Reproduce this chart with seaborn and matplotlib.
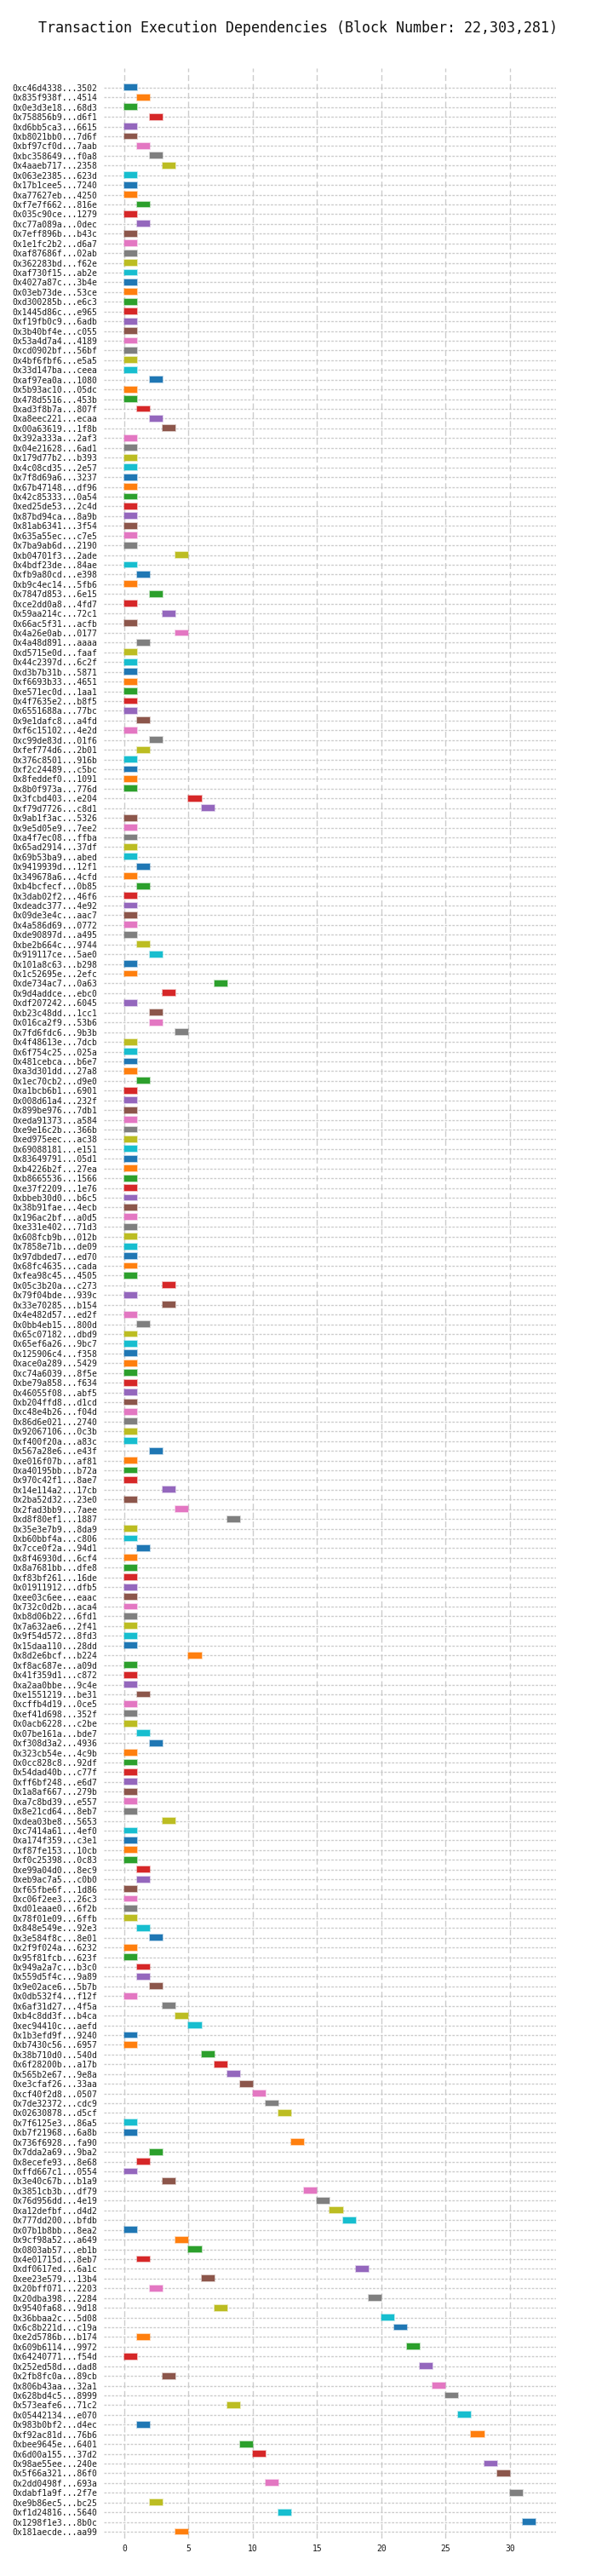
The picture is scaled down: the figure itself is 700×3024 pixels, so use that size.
"""
Transaction execution dependencies for one block, drawn as a Gantt-style chart.
Each transaction gets one row; its bar starts at the step it can run.
"""

import matplotlib

matplotlib.use("Agg")
import matplotlib.pyplot as plt
import numpy as np
import seaborn as sns

BLOCK_NUMBER = "22,303,281"

# ----------------------------
# Data
# ----------------------------
tx_labels = [
    "0xc46d4338...3502", "0x835f938f...4514", "0x0e3d3e18...68d3", "0x758856b9...d6f1",
    "0xd6bb5ca3...6615", "0xb8021bb0...7d6f", "0xbf97cf0d...7aab", "0xbc358649...f0a8",
    "0x4aaeb717...2358", "0x063e2385...623d", "0x17b1cee5...7240", "0xa77627eb...4250",
    "0xf7e7f662...816e", "0x035c90ce...1279", "0xc77a089a...0dec", "0x7eff896b...b43c",
    "0x1e1fc2b2...d6a7", "0xaf87686f...02ab", "0x362283bd...f62e", "0xaf730f15...ab2e",
    "0x4027a87c...3b4e", "0x03eb73de...53ce", "0xd300285b...e6c3", "0x1445d86c...e965",
    "0xf19fb0c9...6adb", "0x3b40bf4e...c055", "0x53a4d7a4...4189", "0xcd0902bf...56bf",
    "0x4bf6fbf6...e5a5", "0x33d147ba...ceea", "0xaf97ea0a...1080", "0x5b93ac10...05dc",
    "0x478d5516...453b", "0xad3f8b7a...807f", "0xa8eec221...ecaa", "0x00a63619...1f8b",
    "0x392a333a...2af3", "0x04e21628...6ad1", "0x179d77b2...b393", "0x4c08cd35...2e57",
    "0x7f8d69a6...3237", "0x67b47148...df96", "0x42c85333...0a54", "0xed25de53...2c4d",
    "0x87bd94ca...8a9b", "0x81ab6341...3f54", "0x635a55ec...c7e5", "0x7ba9ab6d...2190",
    "0xb04701f3...2ade", "0x4bdf23de...84ae", "0xfb9a80cd...e398", "0xb9c4ec14...5fb6",
    "0x7847d853...6e15", "0xce2dd0a8...4fd7", "0x59aa214c...72c1", "0x66ac5f31...acfb",
    "0x4a26e0ab...0177", "0x4a48d891...aaaa", "0xd5715e0d...faaf", "0x44c2397d...6c2f",
    "0xd3b7b31b...5871", "0xf6693b33...4651", "0xe571ec0d...1aa1", "0x4f7635e2...b8f5",
    "0x6551688a...77bc", "0x9e1dafc8...a4fd", "0xf6c15102...4e2d", "0xc99de83d...01f6",
    "0xfef774d6...2b01", "0x376c8501...916b", "0xf2c24489...c5bc", "0x8feddef0...1091",
    "0x8b0f973a...776d", "0x3fcbd403...e204", "0xf79d7726...c8d1", "0x9ab1f3ac...5326",
    "0x9e5d05e9...7ee2", "0xa4f7ec08...ffba", "0x65ad2914...37df", "0x69b53ba9...abed",
    "0x9419939d...12f1", "0x349678a6...4cfd", "0xb4bcfecf...0b85", "0x3dab02f2...46f6",
    "0xdeadc377...4e92", "0x09de3e4c...aac7", "0x4a586d69...0772", "0xde90897d...a495",
    "0xbe2b664c...9744", "0x919117ce...5ae0", "0x101a8c63...b298", "0x1c52695e...2efc",
    "0xde734ac7...0a63", "0x9d4addce...ebc0", "0xdf207242...6045", "0xb23c48dd...1cc1",
    "0x016ca2f9...53b6", "0x7fd6fdc6...9b3b", "0x4f48613e...7dcb", "0x6f754c25...025a",
    "0x481cebca...b6e7", "0xa3d301dd...27a8", "0x1ec70cb2...d9e0", "0xa1bcb6b1...6901",
    "0x008d61a4...232f", "0x899be976...7db1", "0xeda91373...a584", "0xe9e16c2b...366b",
    "0xed975eec...ac38", "0x69088181...e151", "0x83649791...05d1", "0xb4226b2f...27ea",
    "0xb8665536...1566", "0xe37f2209...1e76", "0xbbeb30d0...b6c5", "0x38b91fae...4ecb",
    "0x196ac2bf...a0d5", "0xe331e402...71d3", "0x608fcb9b...012b", "0x7858e71b...de09",
    "0x97dbded7...ed70", "0x68fc4635...cada", "0xfea98c45...4505", "0x05c3b20a...c273",
    "0x79f04bde...939c", "0x33e70285...b154", "0x4e482d57...ed2f", "0x0bb4eb15...800d",
    "0x65c07182...dbd9", "0x65ef6a26...9bc7", "0x125906c4...f358", "0xace0a289...5429",
    "0xc74a6039...8f5e", "0xbe79a858...f634", "0x46055f08...abf5", "0xb204ffd8...d1cd",
    "0xc48e4b26...f04d", "0x86d6e021...2740", "0x92067106...0c3b", "0xf400f20a...a83c",
    "0x567a28e6...e43f", "0xe016f07b...af81", "0xa40195bb...b72a", "0x970c42f1...8ae7",
    "0x14e114a2...17cb", "0x2ba52d32...23e0", "0x2fad3bb9...7aee", "0xd8f80ef1...1887",
    "0x35e3e7b9...8da9", "0xb60bbf4a...c806", "0x7cce0f2a...94d1", "0x8f46930d...6cf4",
    "0x8a7681bb...dfe8", "0xf83bf261...16de", "0x01911912...dfb5", "0xee03c6ee...eaac",
    "0x732c0d2b...aca4", "0xb8d06b22...6fd1", "0x7a632ae6...2f41", "0x9f54d572...8fd3",
    "0x15daa110...28dd", "0x8d2e6bcf...b224", "0xf8ac687e...a09d", "0x41f359d1...c872",
    "0xa2aa0bbe...9c4e", "0xe1551219...be31", "0xcffb4d19...0ce5", "0xef41d698...352f",
    "0x0acb6228...c2be", "0x07be161a...bde7", "0xf308d3a2...4936", "0x323cb54e...4c9b",
    "0x0cc828c8...92df", "0x54dad40b...c77f", "0xff6bf248...e6d7", "0x1a8af667...279b",
    "0xa7c8bd39...e557", "0x8e21cd64...8eb7", "0xdea03be8...5653", "0xc7414a61...4ef0",
    "0xa174f359...c3e1", "0xf87fe153...10cb", "0xf0c25398...0c83", "0xe99a04d0...8ec9",
    "0xeb9ac7a5...c0b0", "0xf65fbe6f...1d86", "0xc06f2ee3...26c3", "0xd01eaae0...6f2b",
    "0x78f01e09...6ffb", "0x848e549e...92e3", "0x3e584f8c...8e01", "0x2f9f024a...6232",
    "0x95f81fcb...623f", "0x949a2a7c...b3c0", "0x559d5f4c...9a89", "0x9e02ace6...5b7b",
    "0x0db532f4...f12f", "0x6af31d27...4f5a", "0xb4c8dd3f...b4ca", "0xec94410c...aefd",
    "0x1b3efd9f...9240", "0xb7430c56...6957", "0x38b710d0...540d", "0x6f28200b...a17b",
    "0x565b2e67...9e8a", "0xe3cfaf26...33aa", "0xcf40f2d8...0507", "0x7de32372...cdc9",
    "0x02630878...d5cf", "0x7f6125e3...86a5", "0xb7f21968...6a8b", "0x736f6928...fa90",
    "0x7dda2a69...9ba2", "0x8ecefe93...8e68", "0xffd667c1...0554", "0x3e40c67b...b1a9",
    "0x3851cb3b...df79", "0x76d956dd...4e19", "0xa12defbf...d4d2", "0x777dd200...bfdb",
    "0x07b1b8bb...8ea2", "0x9cf98a52...a649", "0x0803ab57...eb1b", "0x4e01715d...8eb7",
    "0xdf0617ed...6a1c", "0xee23e579...13b4", "0x20bff071...2203", "0x20dba398...2284",
    "0x9540fa68...9d18", "0x36bbaa2c...5d08", "0x6c8b221d...c19a", "0xe2d5786b...b174",
    "0x609b6114...9972", "0x64240771...f54d", "0x252ed58d...dad8", "0x2fb8fc0a...89cb",
    "0x806b43aa...32a1", "0x628bd4c5...8999", "0x573eafe6...71c2", "0x05442134...e070",
    "0x983b0bf2...d4ec", "0xf92ac81d...76b6", "0xbee9645e...6401", "0x6d00a155...37d2",
    "0x98ae55ee...240e", "0x5f66a321...86f0", "0x2dd0498f...693a", "0xdabf1a9f...2f7e",
    "0xe9b86ec5...bc25", "0xf1d24816...5640", "0x1298f1e3...8b0c", "0x181aecde...aa99",
]

# execution step at which each transaction starts
start_steps = [
    0, 1, 0, 2, 0, 0, 1, 2, 3, 0, 0, 0, 1, 0, 1, 0, 0, 0, 0, 0,
    0, 0, 0, 0, 0, 0, 0, 0, 0, 0, 2, 0, 0, 1, 2, 3,
    0, 0, 0, 0, 0, 0, 0, 0, 0, 0, 0, 0, 4, 0, 1, 0, 2, 0, 3, 0,
    4, 1, 0, 0, 0,
    0, 0, 0, 0, 1, 0, 2, 1, 0, 0, 0, 0, 5, 6, 0, 0, 0, 0, 0, 1,
    0, 1, 0, 0, 0,
    0, 0, 1, 2, 0, 0, 7, 3, 0, 2, 2, 4, 0, 0, 0, 0, 1, 0, 0, 0,
    0, 0, 0, 0, 0,
    0, 0, 0, 0, 0, 0, 0, 0, 0, 0, 0, 0, 3, 0, 3, 0, 1, 0, 0, 0,
    0, 0, 0, 0, 0,
    0, 0, 0, 0, 2, 0, 0, 0, 3, 0, 4, 8, 0, 0, 1, 0, 0, 0, 0, 0,
    0, 0, 0, 0, 0,
    5, 0, 0, 0, 1, 0, 0, 0, 1, 2, 0, 0, 0, 0, 0, 0, 0, 3, 0, 0,
    0, 0, 1, 1, 0,
    0, 0, 0, 1, 2, 0, 0, 1, 1, 2, 0, 3, 4, 5, 0, 0, 6, 7, 8, 9,
    10, 11, 12, 0, 0,
    13, 2, 1, 0, 3, 14, 15, 16, 17, 0, 4, 5, 1, 18, 6, 2, 19, 7, 20, 21,
    1, 22, 0, 23, 3,
    24, 25, 8, 26, 1, 27, 9, 10, 28, 29, 11, 30, 2, 12, 31, 4,
]

STEP_DURATION = 1  # every transaction occupies one step


def plot():

    # ----------------------------
    # Style
    # ----------------------------
    sns.set_style("whitegrid")
    plt.rcParams["font.family"] = ["DejaVu Sans Mono"]

    n = len(tx_labels)
    palette = sns.color_palette("tab10", 10)
    bar_colors = [palette[i % 10] for i in range(n)]
    edge_colors = [(*c, 0.35) for c in bar_colors]

    fig = plt.figure(figsize=(7, 30.24), dpi=100)
    ax = fig.add_axes([0.174, 0.01455, 0.759, 0.959])

    # ----------------------------
    # Bars
    # ----------------------------
    ax.barh(
        np.arange(n),
        STEP_DURATION,
        left=start_steps,
        height=0.6,
        color=bar_colors,
        edgecolor=edge_colors,
        linewidth=1.3,
        zorder=3,
    )

    ax.set_yticks(np.arange(n))
    ax.set_yticklabels(tx_labels)
    ax.set_ylim(n - 1 + 0.7, -2)
    ax.set_xlim(-1.6, 33.6)
    ax.set_xticks(np.arange(0, 31, 5))

    ax.tick_params(axis="y", labelsize=7, length=0, pad=5.5, colors="#1a1a1a")
    ax.tick_params(axis="x", labelsize=7, length=0, pad=5, colors="#1a1a1a")

    # ----------------------------
    # Grid
    # ----------------------------
    ax.grid(False)
    ax.grid(axis="x", color="#cccccc", linestyle=(0, (5, 2.5)), linewidth=1)
    ax.grid(axis="y", color="#cccccc", linestyle=(0, (2, 1.2)), linewidth=1)
    ax.set_axisbelow(True)
    sns.despine(ax=ax, left=True, bottom=True)

    fig.suptitle(
        f"Transaction Execution Dependencies (Block Number: {BLOCK_NUMBER})",
        fontsize=12,
        y=1 - 33 / 3024,
        va="center",
        color="#111111",
    )

    fig.savefig("out.png", dpi=100)


if __name__ == "__main__":
    plot()
